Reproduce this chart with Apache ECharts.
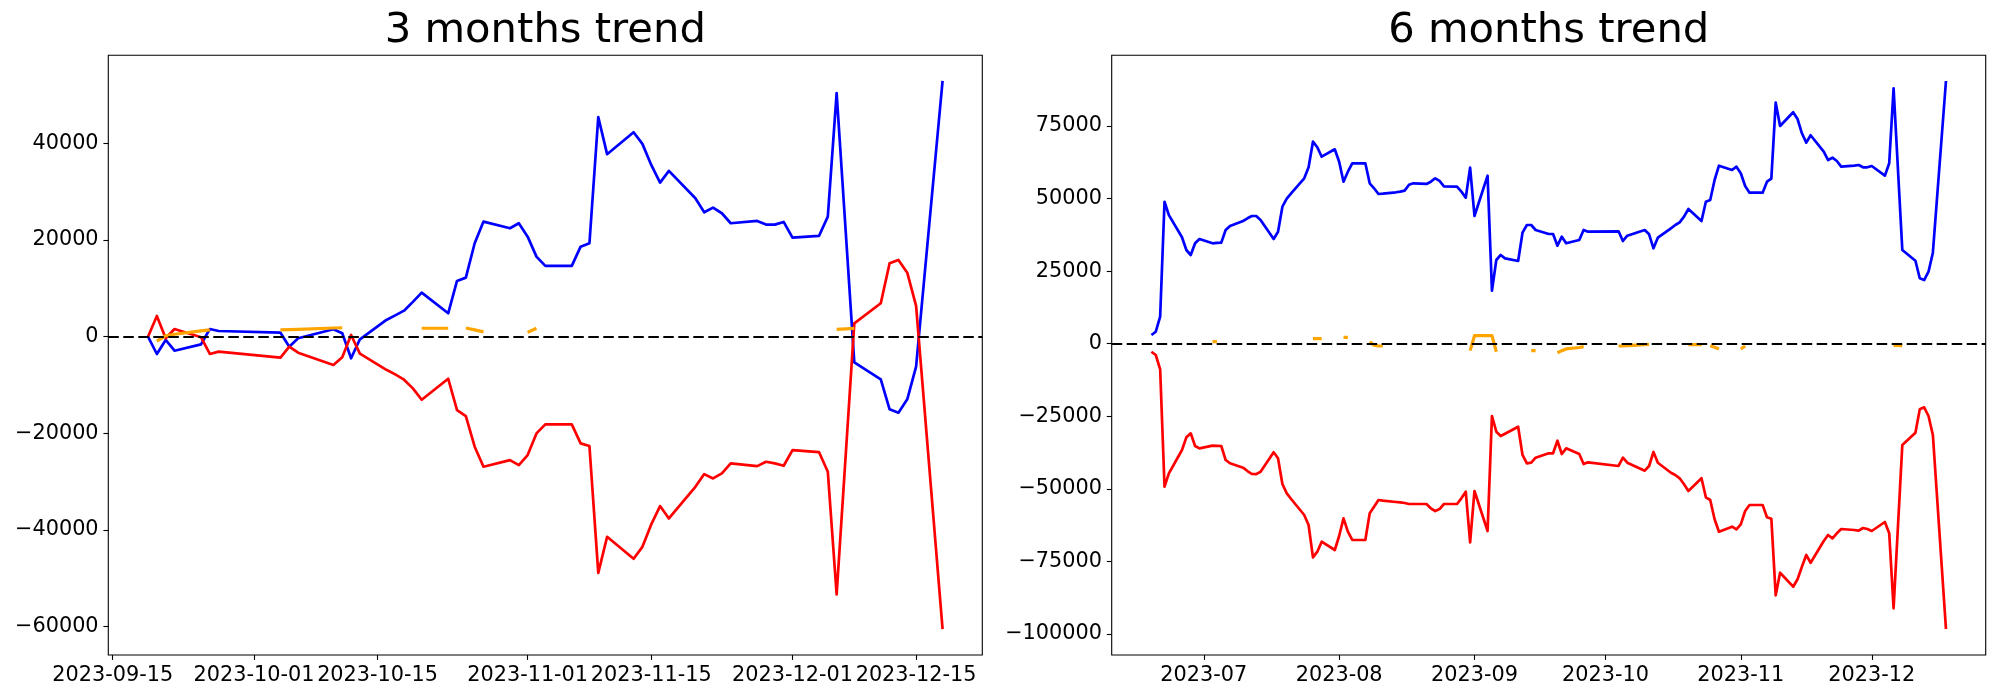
<!DOCTYPE html>
<html>
<head>
<meta charset="utf-8">
<script src="https://cdn.jsdelivr.net/npm/echarts/dist/echarts.min.js"></script>
<style>
html,body{margin:0;padding:0;background:#fff;}
#chart{width:2000px;height:700px;}
</style>
</head>
<body>
<div id="chart"></div>
<script>
// ---------- 3 months data ----------
const dates3 = ['2023-09-19','2023-09-20','2023-09-21','2023-09-22','2023-09-25','2023-09-26','2023-09-27',
'2023-10-04','2023-10-05','2023-10-06','2023-10-10','2023-10-11','2023-10-12','2023-10-13',
'2023-10-16','2023-10-17','2023-10-18','2023-10-19','2023-10-20',
'2023-10-23','2023-10-24','2023-10-25','2023-10-26','2023-10-27','2023-10-30','2023-10-31',
'2023-11-01','2023-11-02','2023-11-03','2023-11-06','2023-11-07','2023-11-08','2023-11-09','2023-11-10',
'2023-11-13','2023-11-14','2023-11-15','2023-11-16','2023-11-17','2023-11-20','2023-11-21','2023-11-22','2023-11-23','2023-11-24',
'2023-11-27','2023-11-28','2023-11-29','2023-11-30','2023-12-01','2023-12-04','2023-12-05','2023-12-06','2023-12-08',
'2023-12-11','2023-12-12','2023-12-13','2023-12-14','2023-12-15','2023-12-18'];
const blue3 = [0,-3580,-680,-2900,-1580,1590,1180,
830,-2070,-330,1530,700,-4470,-540,
3460,4400,5380,7200,9110,
4840,11530,12220,19330,23810,22440,23470,
20700,16560,14640,14640,18630,19330,45420,37760,
42310,39890,35540,31880,34300,28650,25750,26710,25540,23470,
23950,23190,23190,23740,20500,20840,24840,50380,-5300,
-8820,-15030,-15730,-12960,-6210,52940];
const red3 = [0,4290,-330,1590,-100,-3580,-3100,
-4350,-2070,-3310,-5860,-4270,350,-3500,
-6850,-7800,-8900,-10690,-13050,
-8700,-15180,-16420,-22770,-26910,-25530,-26570,
-24500,-20010,-18140,-18140,-22080,-22630,-48860,-41410,
-45960,-43480,-38850,-35050,-37610,-31060,-28430,-29330,-28290,-26220,
-26780,-25880,-26220,-26710,-23460,-23870,-27940,-53330,2770,
6910,15190,15880,13250,6360,-60520];
const orange3 = [null,-900,200,500,1200,1400,null,
1400,1450,1500,1800,1850,null,null,
null,null,null,null,1750,
1750,null,1800,1400,1000,null,null,
900,1750,null,null,null,null,null,null,
null,null,null,null,null,null,null,null,null,null,
null,null,null,null,null,null,null,1500,1700,
null,null,null,null,null,null];
const xTicks3 = ['2023-09-15','2023-10-01','2023-10-15','2023-11-01','2023-11-15','2023-12-01','2023-12-15'];
const yTicks3 = [-60000,-40000,-20000,0,20000,40000];

// ---------- 6 months data ----------
const dates6 = ['2023-06-19','2023-06-20','2023-06-21','2023-06-22','2023-06-23',
'2023-06-26','2023-06-27','2023-06-28','2023-06-29','2023-06-30',
'2023-07-03','2023-07-04','2023-07-05','2023-07-06','2023-07-07',
'2023-07-10','2023-07-11','2023-07-12','2023-07-13','2023-07-14',
'2023-07-17','2023-07-18','2023-07-19','2023-07-20','2023-07-21',
'2023-07-24','2023-07-25','2023-07-26','2023-07-27','2023-07-28',
'2023-07-31','2023-08-01','2023-08-02','2023-08-03','2023-08-04',
'2023-08-07','2023-08-08','2023-08-09','2023-08-10','2023-08-11',
'2023-08-14','2023-08-15','2023-08-16','2023-08-17','2023-08-18',
'2023-08-21','2023-08-22','2023-08-23','2023-08-24','2023-08-25',
'2023-08-28','2023-08-29','2023-08-30','2023-08-31','2023-09-01',
'2023-09-04','2023-09-05','2023-09-06','2023-09-07','2023-09-08',
'2023-09-11','2023-09-12','2023-09-13','2023-09-14','2023-09-15',
'2023-09-18','2023-09-19','2023-09-20','2023-09-21','2023-09-22',
'2023-09-25','2023-09-26','2023-09-27',
'2023-10-04','2023-10-05','2023-10-06',
'2023-10-10','2023-10-11','2023-10-12','2023-10-13',
'2023-10-16','2023-10-17','2023-10-18','2023-10-19','2023-10-20',
'2023-10-23','2023-10-24','2023-10-25','2023-10-26','2023-10-27',
'2023-10-30','2023-10-31','2023-11-01','2023-11-02','2023-11-03',
'2023-11-06','2023-11-07','2023-11-08','2023-11-09','2023-11-10',
'2023-11-13','2023-11-14','2023-11-15','2023-11-16','2023-11-17',
'2023-11-20','2023-11-21','2023-11-22','2023-11-23','2023-11-24',
'2023-11-27','2023-11-28','2023-11-29','2023-11-30','2023-12-01',
'2023-12-04','2023-12-05','2023-12-06','2023-12-08',
'2023-12-11','2023-12-12','2023-12-13','2023-12-14','2023-12-15','2023-12-18'];
const blue6 = [3000,4130,9300,48900,44300,
36650,32280,30560,34590,36070,
34590,34700,34820,39170,40550,
42270,43200,43990,43990,42610,
36070,38580,47200,49950,51800,
56980,60770,69590,67660,64420,
66970,62700,55810,59250,62150,
62150,55260,53540,51570,51690,
52160,52390,52730,54780,55260,
55030,55810,56980,56060,54220,
54100,52390,50300,60630,43990,
57880,18260,28830,30560,29410,
28490,38240,40890,40890,39170,
37790,37790,33760,36860,34590,
35720,39170,38580,
38720,35380,37210,
39170,37690,32870,36520,
39760,40890,41820,43750,46400,
42270,48920,49500,56390,61320,
59840,60980,58700,54330,52020,
52020,55810,56840,83030,75000,
79720,77410,72480,69250,71800,
66140,63280,64080,62940,60980,
61320,61560,60770,60770,61220,
57880,62150,87980,32280,
28590,22530,21940,24800,31350,90500];
const red6 = [-2760,-3890,-8830,-49260,-44650,
-36620,-32250,-30870,-35240,-36040,
-35130,-35190,-35240,-40060,-41200,
-42710,-43860,-44890,-44940,-44100,
-37410,-39480,-48330,-51540,-53500,
-59010,-62460,-73590,-71650,-68210,
-71070,-66250,-60150,-64760,-67620,
-67620,-58430,-56150,-53850,-54080,
-54540,-54660,-54880,-55220,-55220,
-55220,-56710,-57640,-56950,-55220,
-55220,-53260,-50990,-68420,-50740,
-64520,-24910,-30320,-31800,-31010,
-28590,-38340,-41200,-40960,-39270,
-37760,-37760,-33420,-38000,-36040,
-38000,-41440,-40860,
-42130,-39270,-41000,
-43750,-42130,-37310,-41000,
-44440,-45230,-46370,-48440,-50740,
-46370,-52920,-53850,-60500,-64760,
-63040,-63950,-62220,-57640,-55570,
-55570,-59800,-60290,-86680,-78890,
-83710,-81160,-76820,-72790,-75450,
-67970,-65900,-67040,-65320,-63840,
-64180,-64420,-63490,-63840,-64520,
-61420,-65320,-91150,-34900,
-30660,-22600,-21910,-24910,-31450,-98290];
const orange6 = [null,null,null,null,null,
null,null,null,null,null,
690,690,null,null,null,
null,null,null,null,null,
null,null,null,null,null,
null,null,1720,1720,1720,
null,null,2200,2200,null,
null,690,-500,-800,-800,
null,null,null,null,null,
null,null,null,null,null,
null,null,null,-2400,2760,
2760,2760,-2760,null,null,
null,null,null,-2410,-2410,
null,null,-3100,-2400,-1800,
-1300,-1030,null,
-800,-750,-650,
-350,-230,null,null,
null,null,null,null,-340,
-340,null,-700,-1200,-1840,
null,null,-1840,-800,null,
null,null,null,null,null,
null,null,null,null,null,
null,null,null,null,null,
null,null,null,null,null,
null,null,-580,-690,
null,null,null,null,null,null];
const xTicks6 = ['2023-07-01','2023-08-01','2023-09-01','2023-10-01','2023-11-01','2023-12-01'];
const yTicks6 = [-100000,-75000,-50000,-25000,0,25000,50000,75000];

// ---------- helpers ----------
const DAY = 86400000;
const ts = s => { const p = s.split('-').map(Number); return Date.UTC(p[0], p[1]-1, p[2]); };
const pad = n => (n < 10 ? '0' : '') + n;
const fmtDay = v => { const d = new Date(v); return d.getUTCFullYear() + '-' + pad(d.getUTCMonth()+1) + '-' + pad(d.getUTCDate()); };
const fmtMonth = v => { const d = new Date(v); return d.getUTCFullYear() + '-' + pad(d.getUTCMonth()+1); };
const fmtNum = v => String(v).replace('-', '\u2212');
const pairs = (dates, vals) => dates.map((d, i) => [ts(d), vals[i] === null ? null : vals[i]]);

const FONT = 'DejaVu Sans';
const G = [{left:108.3, top:55.3, width:874, height:599.7}, {left:1111.7, top:55.3, width:874, height:599.7}];

function xAxis(idx, dates, ticks, fmt, marginDays) {
  const a = ts(dates[0]), b = ts(dates[dates.length-1]);
  const tv = ticks.map(ts);
  return {
    type:'value', gridIndex:idx, min:a - marginDays*DAY, max:b + marginDays*DAY, position:'bottom',
    splitLine:{show:false}, axisLine:{show:false, onZero:false},
    axisTick:{show:true, inside:false, length:4.9, lineStyle:{color:'#000', width:1.1}, customValues:tv},
    axisLabel:{show:true, margin:9.7, color:'#000', fontFamily:FONT, fontSize:20.8, customValues:tv, formatter:fmt}
  };
}
function yAxis(idx, mn, mx, ticks) {
  return {
    type:'value', gridIndex:idx, min:mn, max:mx, position:'left',
    splitLine:{show:false}, axisLine:{show:false, onZero:false},
    axisTick:{show:true, inside:false, length:4.9, lineStyle:{color:'#000', width:1.1}, customValues:ticks},
    axisLabel:{show:true, margin:9.7, color:'#000', fontFamily:FONT, fontSize:20.8, customValues:ticks, formatter:fmtNum}
  };
}
function lineSeries(idx, data, color, width, z) {
  return {type:'line', xAxisIndex:idx, yAxisIndex:idx, data:data, showSymbol:false, symbol:'none',
    connectNulls:false, lineStyle:{color:color, width:width, join:'round', cap:'butt'}, z:z, silent:true, animation:false};
}
function zeroLine(idx) {
  return {type:'line', xAxisIndex:idx, yAxisIndex:idx, data:[], z:10, silent:true, animation:false,
    markLine:{silent:true, symbol:['none','none'], animation:false, label:{show:false},
      lineStyle:{color:'#000', width:2.2, type:[10.5,4.5]}, data:[{yAxis:0}]}};
}

const option = {
  animation:false,
  backgroundColor:'#fff',
  grid: G.map(g => Object.assign({show:true, borderColor:'#000', borderWidth:1.1, containLabel:false}, g)),
  xAxis:[xAxis(0, dates3, xTicks3, fmtDay, 4.5), xAxis(1, dates6, xTicks6, fmtMonth, 9.1)],
  yAxis:[yAxis(0, -65860, 58220, yTicks3), yAxis(1, -107240, 99350, yTicks6)],
  graphic:[
    {type:'text', x:G[0].left + G[0].width/2, y:31.6, style:{text:'3 months trend', fontFamily:FONT, fontSize:41.7, fill:'#000', align:'center', verticalAlign:'middle'}},
    {type:'text', x:G[1].left + G[1].width/2, y:31.6, style:{text:'6 months trend', fontFamily:FONT, fontSize:41.7, fill:'#000', align:'center', verticalAlign:'middle'}}
  ],
  series:[
    lineSeries(0, pairs(dates3, blue3), '#0000ff', 2.7, 2),
    lineSeries(0, pairs(dates3, red3), '#ff0000', 2.7, 3),
    lineSeries(0, pairs(dates3, orange3), '#ffa500', 3.2, 4),
    zeroLine(0),
    lineSeries(1, pairs(dates6, blue6), '#0000ff', 2.7, 2),
    lineSeries(1, pairs(dates6, red6), '#ff0000', 2.7, 3),
    lineSeries(1, pairs(dates6, orange6), '#ffa500', 3.2, 4),
    zeroLine(1)
  ]
};
const chart = echarts.init(document.getElementById('chart'), null, {renderer:'canvas'});
chart.setOption(option);
</script>
</body>
</html>
